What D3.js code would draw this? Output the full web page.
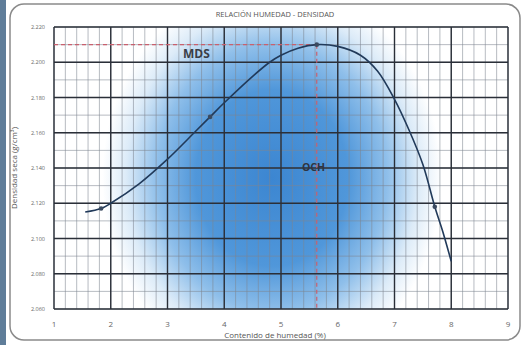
<!DOCTYPE html>
<html>
<head>
<meta charset="utf-8">
<script src="https://cdn.jsdelivr.net/npm/d3@7"></script>
<style>
  body { margin: 0; background: #fff; }
  svg { display: block; font-family: "Open Sans", "DejaVu Sans", sans-serif; }
  .tick-y { font-size: 5.5px; fill: #666; }
  .tick-x { font-size: 8px; fill: #666; }
  .axis-label { font-size: 8px; fill: #555; }
  .title { font-size: 7.5px; fill: #555; }
</style>
</head>
<body>
<div id="chart"></div>
<script>
const TITLE = "RELACIÓN HUMEDAD - DENSIDAD";
const X_TICKS = [1, 2, 3, 4, 5, 6, 7, 8, 9];
const Y_TICKS = [2.06, 2.08, 2.10, 2.12, 2.14, 2.16, 2.18, 2.20, 2.22];
const Y_TICK_LABELS = ["2.060", "2.080", "2.100", "2.120", "2.140", "2.160", "2.180", "2.200", "2.220"];

// ensayo: humedad (%) y densidad seca
const sampleMoisture = [1.83, 3.75, 5.63, 7.71];
const sampleDensity = [2.117, 2.169, 2.210, 2.118];

// curva trazada
const curveMoisture = [1.55, 1.83, 2.0, 2.5, 3.0, 3.5, 3.75, 4.0, 4.5, 4.8, 5.0, 5.3, 5.63, 6.0, 6.4, 6.7, 7.0, 7.25, 7.5, 7.71, 7.85, 8.0];
const curveDensity = [2.115, 2.117, 2.120, 2.131, 2.145, 2.161, 2.169, 2.177, 2.192, 2.200, 2.204, 2.208, 2.210, 2.209, 2.204, 2.195, 2.179, 2.162, 2.142, 2.118, 2.104, 2.087];

const MDS = 2.210;
const OCH = 5.63;

const width = 525;
const height = 345;
const plot = { left: 54, right: 508, top: 27, bottom: 309 };

const svg = d3.select("#chart").append("svg").attr("width", width).attr("height", height);

const x = d3.scaleLinear().domain([1, 9]).range([plot.left, plot.right]);
const y = d3.scaleLinear().domain([2.06, 2.22]).range([plot.bottom, plot.top]);

const defs = svg.append("defs");
const grad = defs.append("radialGradient")
  .attr("id", "blob")
  .attr("gradientUnits", "userSpaceOnUse")
  .attr("cx", 272).attr("cy", 178).attr("r", 175)
  .attr("gradientTransform", "translate(272,178) scale(0.97,1.12) translate(-272,-178)");
grad.append("stop").attr("offset", 0).attr("stop-color", "#3c86d1");
grad.append("stop").attr("offset", 0.45).attr("stop-color", "#5097da");
grad.append("stop").attr("offset", 0.68).attr("stop-color", "#8fbfea");
grad.append("stop").attr("offset", 0.86).attr("stop-color", "#dcebf8");
grad.append("stop").attr("offset", 1).attr("stop-color", "#ffffff");

// marco escaneado
svg.append("rect").attr("x", 0).attr("y", 0).attr("width", 6).attr("height", height).attr("fill", "#5f7d99");
svg.append("rect")
  .attr("x", 10).attr("y", 4).attr("width", 510).attr("height", 336).attr("rx", 14)
  .attr("fill", "#fff").attr("stroke", "#8a8a8a").attr("stroke-width", 1.5);

svg.append("rect")
  .attr("x", plot.left).attr("y", plot.top)
  .attr("width", plot.right - plot.left).attr("height", plot.bottom - plot.top)
  .attr("fill", "url(#blob)");

// grilla menor
const minorX = d3.range(1, 9.0001, 0.2);
const minorY = d3.range(2.06, 2.2201, 0.01);
const grid = svg.append("g");
grid.selectAll(".mx").data(minorX).join("line")
  .attr("x1", (d) => x(d)).attr("x2", (d) => x(d))
  .attr("y1", plot.top).attr("y2", plot.bottom)
  .attr("stroke", "#7d8590").attr("stroke-width", 0.8).attr("stroke-opacity", 0.7);
grid.selectAll(".my").data(minorY).join("line")
  .attr("x1", plot.left).attr("x2", plot.right)
  .attr("y1", (d) => y(d)).attr("y2", (d) => y(d))
  .attr("stroke", "#7d8590").attr("stroke-width", 0.8).attr("stroke-opacity", 0.7);

// grilla mayor
grid.selectAll(".Mx").data(X_TICKS).join("line")
  .attr("x1", (d) => x(d)).attr("x2", (d) => x(d))
  .attr("y1", plot.top).attr("y2", plot.bottom)
  .attr("stroke", "#2a2f38").attr("stroke-width", 1.4);
grid.selectAll(".My").data(Y_TICKS).join("line")
  .attr("x1", plot.left).attr("x2", plot.right)
  .attr("y1", (d) => y(d)).attr("y2", (d) => y(d))
  .attr("stroke", "#2a2f38").attr("stroke-width", 1.4);

// etiquetas de ejes
svg.append("g").selectAll("text").data(Y_TICKS).join("text")
  .attr("class", "tick-y")
  .attr("x", plot.left - 9).attr("y", (d) => y(d) + 2)
  .attr("text-anchor", "end")
  .text((d, i) => Y_TICK_LABELS[i]);

svg.append("g").selectAll("text").data(X_TICKS).join("text")
  .attr("class", "tick-x")
  .attr("x", (d) => x(d)).attr("y", 327)
  .attr("text-anchor", "middle")
  .text((d) => d);

svg.append("text").attr("class", "title")
  .attr("x", 275).attr("y", 17).attr("text-anchor", "middle").text(TITLE);

svg.append("text").attr("class", "axis-label")
  .attr("x", 275).attr("y", 338).attr("text-anchor", "middle")
  .text("Contenido de humedad (%)");

svg.append("text").attr("class", "axis-label")
  .attr("transform", "translate(17,168) rotate(-90)")
  .attr("text-anchor", "middle")
  .text("Densidad seca (g/cm³)");

// lineas de referencia MDS / OCH
const refColor = "#c9606e";
svg.append("line")
  .attr("x1", plot.left).attr("x2", x(OCH))
  .attr("y1", y(MDS)).attr("y2", y(MDS))
  .attr("stroke", refColor).attr("stroke-width", 1.2).attr("stroke-dasharray", "4,3");
svg.append("line")
  .attr("x1", x(OCH)).attr("x2", x(OCH))
  .attr("y1", y(MDS)).attr("y2", plot.bottom)
  .attr("stroke", refColor).attr("stroke-width", 1.2).attr("stroke-dasharray", "4,3");

svg.append("text")
  .attr("x", 183).attr("y", 58)
  .attr("font-size", 12).attr("font-weight", "bold").attr("fill", "#3b3f47")
  .text("MDS");
svg.append("text")
  .attr("x", 302).attr("y", 171)
  .attr("font-size", 10.5).attr("font-weight", "bold").attr("fill", "#2f3440")
  .text("OCH");

// curva
const line = d3.line()
  .x((d, i) => x(curveMoisture[i]))
  .y((d, i) => y(curveDensity[i]))
  .curve(d3.curveCatmullRom.alpha(0.5));

svg.append("path")
  .datum(curveMoisture)
  .attr("d", line)
  .attr("fill", "none")
  .attr("stroke", "#213a5a")
  .attr("stroke-width", 1.6);

svg.append("g").selectAll("circle").data(sampleMoisture).join("circle")
  .attr("cx", (d) => x(d))
  .attr("cy", (d, i) => y(sampleDensity[i]))
  .attr("r", 2.3)
  .attr("fill", "#3a4a60");
</script>
</body>
</html>
